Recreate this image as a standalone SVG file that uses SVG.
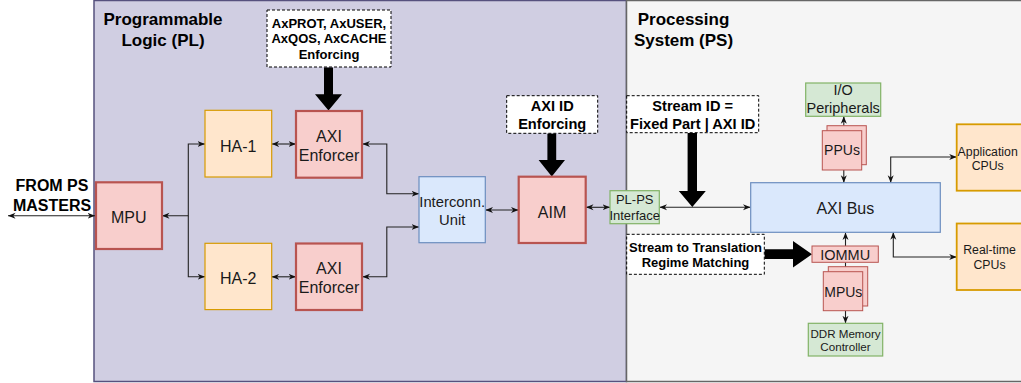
<svg xmlns="http://www.w3.org/2000/svg" width="1021" height="383" viewBox="0 0 1021 383">
<style>
text{font-family:"Liberation Sans",Arial,sans-serif;fill:#1a1a1a;text-anchor:middle}
.b{font-weight:bold;fill:#000}
.red{fill:#f8cecc;stroke:#b85450;stroke-width:2.2}
.redt{fill:#f8cecc;stroke:#b85450;stroke-width:1}
.or{fill:#ffe6cc;stroke:#d79b00;stroke-width:1.2}
.or2{fill:#ffe6cc;stroke:#d79b00;stroke-width:1.8}
.bl{fill:#dae8fc;stroke:#6c8ebf;stroke-width:1.2}
.gr{fill:#d5e8d4;stroke:#82b366;stroke-width:1.2}
.dash{fill:#fff;stroke:#000;stroke-width:1;stroke-dasharray:3 2}
.c{fill:none;stroke:#222;stroke-width:1.1}
.thick{fill:#000}
</style>
<defs>
<marker id="a" viewBox="0 0 10 10" refX="10" refY="5" markerWidth="7.5" markerHeight="7.5" markerUnits="userSpaceOnUse" orient="auto-start-reverse">
<path d="M0,1 L10,5 L0,9 L3,5 z" fill="#111"/>
</marker>
</defs>

<g id="pl-region">
<rect x="94" y="0.5" width="532.5" height="381" fill="#d0cee2" stroke="#56517e" stroke-width="1.5"/>
<text class="b" x="163" y="25" font-size="17">Programmable</text>
<text class="b" x="163" y="46" font-size="17">Logic (PL)</text>
</g>
<g id="ps-region">
<rect x="626.5" y="0.5" width="400" height="381" fill="#f5f5f5" stroke="#666" stroke-width="1.5"/>
<text class="b" x="683.5" y="25" font-size="17">Processing</text>
<text class="b" x="683.5" y="46" font-size="17">System (PS)</text>
</g>

<g id="from-ps-label">
<text class="b" x="52" y="191" font-size="16">FROM PS</text>
<text class="b" x="52" y="210.7" font-size="16">MASTERS</text>
</g>

<g id="connectors">
<path class="c" d="M8,215.8 H95" marker-start="url(#a)" marker-end="url(#a)"/>
<path class="c" d="M162,215.8 H188.3 V144 H205" marker-start="url(#a)" marker-end="url(#a)"/>
<path class="c" d="M188.3,215.8 V276.8 H205" marker-end="url(#a)"/>
<path class="c" d="M271.7,144 H296" marker-start="url(#a)" marker-end="url(#a)"/>
<path class="c" d="M271.7,276.8 H296" marker-start="url(#a)" marker-end="url(#a)"/>
<path class="c" d="M362.5,144 H386.8 V193.8 H419" marker-start="url(#a)" marker-end="url(#a)"/>
<path class="c" d="M362.5,276.8 H386.8 V227 H419" marker-start="url(#a)" marker-end="url(#a)"/>
<path class="c" d="M485.5,210 H518.5" marker-start="url(#a)" marker-end="url(#a)"/>
<path class="c" d="M586,207.3 H610" marker-start="url(#a)" marker-end="url(#a)"/>
<path class="c" d="M659.5,207.3 H750.5" marker-start="url(#a)" marker-end="url(#a)"/>
<path class="c" d="M845.5,246 V232.5" marker-end="url(#a)"/>
<path class="c" d="M845.5,262.3 V267"/>
<path class="c" d="M845.5,310.7 V323.3" marker-end="url(#a)"/>
<path class="c" d="M843.8,125.7 V116.3" marker-end="url(#a)"/>
<path class="c" d="M843.8,170 V182.7" marker-end="url(#a)"/>
<path class="c" d="M890.7,182.7 V157 H956.7" marker-start="url(#a)" marker-end="url(#a)"/>
<path class="c" d="M893.3,232.3 V257 H956.7" marker-start="url(#a)" marker-end="url(#a)"/>
<polygon class="thick" points="324,67.5 333,67.5 333,94.3 342,94.3 328.5,110.5 315,94.3 324,94.3"/>
<polygon class="thick" points="547.4,133.5 556.2,133.5 556.2,160 565,160 551.8,176.5 538.6,160 547.4,160"/>
<polygon class="thick" points="687.6,133 697,133 697,191 705.8,191 692.3,207 678.8,191 687.6,191"/>
<polygon class="thick" points="764.5,249.3 793,249.3 793,241 812,254.2 793,267.4 793,259.1 764.5,259.1"/>
</g>

<g id="axprot-box">
<rect class="dash" x="267" y="10" width="124" height="57"/>
<text class="b" x="329" y="27.5" font-size="13">AxPROT, AxUSER,</text>
<text class="b" x="329" y="43.3" font-size="13">AxQOS, AxCACHE</text>
<text class="b" x="329" y="58.8" font-size="13">Enforcing</text>
</g>
<g id="axi-id-box">
<rect class="dash" x="506.7" y="95.7" width="91" height="37.6"/>
<text class="b" x="552.2" y="111" font-size="14.6">AXI ID</text>
<text class="b" x="552.2" y="128.6" font-size="14.6">Enforcing</text>
</g>
<g id="stream-id-box">
<rect class="dash" x="626.7" y="95.7" width="132" height="37"/>
<text class="b" x="692.7" y="110.7" font-size="14.6">Stream ID =</text>
<text class="b" x="692.7" y="128.6" font-size="14.6">Fixed Part | AXI ID</text>
</g>
<g id="stream-translation-box">
<rect class="dash" x="626.7" y="234.3" width="137.6" height="40"/>
<text class="b" x="695.5" y="251.5" font-size="13">Stream to Translation</text>
<text class="b" x="695.5" y="267.3" font-size="13">Regime Matching</text>
</g>

<g id="mpu">
<rect class="red" x="96" y="182.3" width="66" height="66.7"/>
<text x="128.8" y="222.6" font-size="16">MPU</text>
</g>
<g id="ha-1">
<rect class="or" x="205" y="110.3" width="66.7" height="66.7"/>
<text x="238.3" y="151.5" font-size="16">HA-1</text>
</g>
<g id="ha-2">
<rect class="or" x="205" y="243.3" width="66.7" height="66.3"/>
<text x="238.3" y="283.6" font-size="16">HA-2</text>
</g>
<g id="axi-enforcer-1">
<rect class="red" x="296" y="111" width="66" height="66.7"/>
<text x="329" y="141.6" font-size="16">AXI</text>
<text x="329" y="160.6" font-size="16">Enforcer</text>
</g>
<g id="axi-enforcer-2">
<rect class="red" x="296" y="243.5" width="66" height="66.5"/>
<text x="329" y="273.6" font-size="16">AXI</text>
<text x="329" y="293.2" font-size="16">Enforcer</text>
</g>
<g id="interconn-unit">
<rect class="bl" x="419" y="176.7" width="66.3" height="66"/>
<text x="452.2" y="206.7" font-size="14.8">Interconn.</text>
<text x="452.2" y="225" font-size="14.8">Unit</text>
</g>
<g id="aim">
<rect class="red" x="518.7" y="176.7" width="67" height="66.3"/>
<text x="552" y="217.6" font-size="16">AIM</text>
</g>
<g id="pl-ps-interface">
<rect class="gr" x="610" y="190.7" width="49.3" height="33"/>
<text x="634.7" y="204" font-size="13">PL-PS</text>
<text x="634.7" y="220" font-size="13">Interface</text>
</g>
<g id="axi-bus">
<rect class="bl" x="750.7" y="182.7" width="189.6" height="49.6"/>
<text x="845.3" y="214" font-size="16">AXI Bus</text>
</g>
<g id="io-peripherals">
<rect class="gr" x="805.7" y="83" width="75" height="33.3"/>
<text x="843.2" y="95" font-size="14.5">I/O</text>
<text x="843.2" y="113.3" font-size="14.5">Peripherals</text>
</g>
<g id="ppus">
<rect class="redt" x="827" y="125.7" width="39.3" height="39"/>
<rect class="redt" x="822.3" y="130.7" width="39.4" height="39.3"/>
<text x="842" y="155.3" font-size="14">PPUs</text>
</g>
<g id="iommu">
<rect class="redt" x="812" y="246" width="66.3" height="16.3"/>
<text x="845.2" y="259.5" font-size="14.5">IOMMU</text>
</g>
<g id="mpus">
<rect class="redt" x="828.3" y="266.7" width="39.4" height="39.3"/>
<rect class="redt" x="823.3" y="271.7" width="39.4" height="39"/>
<text x="843.3" y="296.5" font-size="14">MPUs</text>
</g>
<g id="ddr-controller">
<rect class="gr" x="808.3" y="323.3" width="74.4" height="32.7"/>
<text x="845.5" y="338" font-size="11.6">DDR Memory</text>
<text x="845.5" y="351" font-size="11.6">Controller</text>
</g>
<g id="application-cpus">
<rect class="or2" x="956.7" y="124.3" width="80" height="66.4"/>
<text x="987.7" y="156" font-size="12.3">Application</text>
<text x="987.7" y="170" font-size="12.3">CPUs</text>
</g>
<g id="realtime-cpus">
<rect class="or2" x="956.7" y="223.5" width="80" height="66.5"/>
<text x="989.5" y="254.3" font-size="12.3">Real-time</text>
<text x="989.5" y="269" font-size="12.3">CPUs</text>
</g>
</svg>
